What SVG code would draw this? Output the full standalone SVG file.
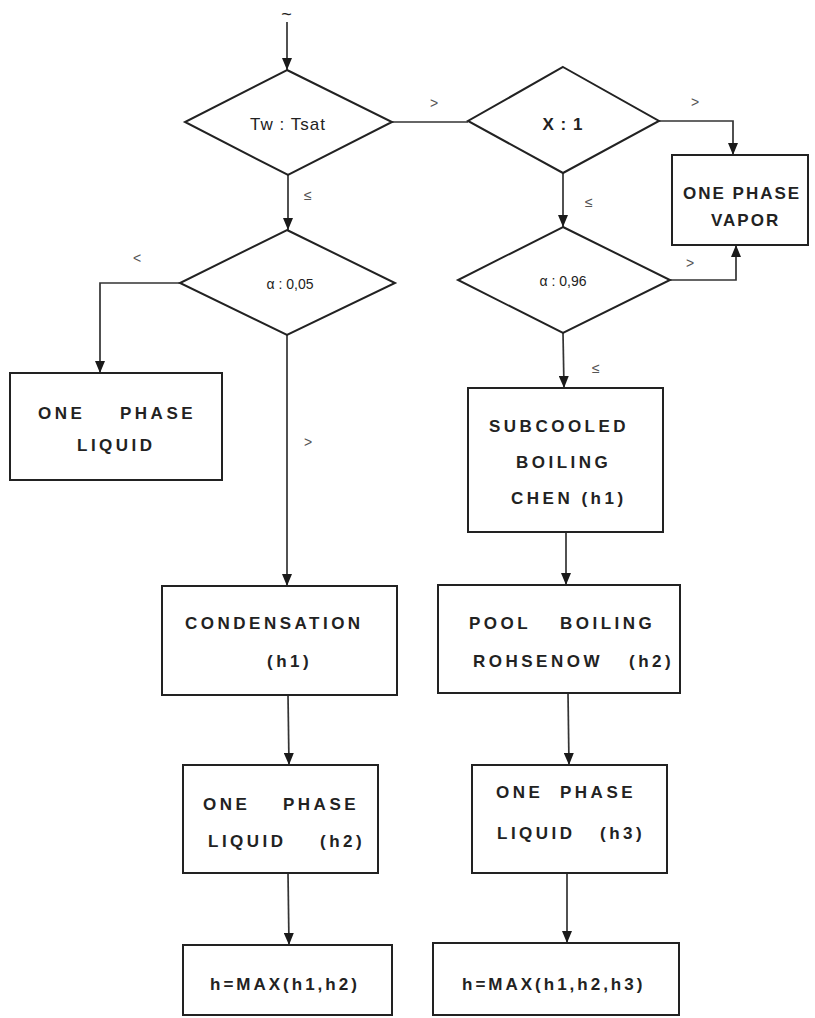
<svg xmlns="http://www.w3.org/2000/svg" width="815" height="1018" viewBox="0 0 815 1018">
<defs>
<marker id="ah" viewBox="0 0 12 10" refX="12" refY="5" markerWidth="12" markerHeight="10" markerUnits="userSpaceOnUse" orient="auto">
<path d="M0,0 L12,5 L0,10 Z" fill="#1a1a1a"/>
</marker>
<style>
.shape{fill:#fff;stroke:#222;stroke-width:2}
.conn{fill:none;stroke:#333;stroke-width:1.7}
.t{font-family:"Liberation Sans",Arial,sans-serif;font-weight:bold;font-size:17px;fill:#222;letter-spacing:3.5px}
.f{letter-spacing:3px}
.d{font-family:"Liberation Sans",Arial,sans-serif;font-size:17px;fill:#222;text-anchor:middle;letter-spacing:1px}
.ds{font-family:"Liberation Sans",Arial,sans-serif;font-size:14px;fill:#222;text-anchor:middle}
.lbl{font-family:"Liberation Sans",Arial,sans-serif;font-size:14px;fill:#555}
</style>
</defs>
<rect width="815" height="1018" fill="#fff"/>
<g id="connectors">
<text x="287" y="20" class="d" style="font-size:18px">~</text>
<line class="conn" x1="287" y1="22" x2="287" y2="70" marker-end="url(#ah)"/>
<line class="conn" x1="392" y1="122" x2="468" y2="122"/>
<text x="430" y="108" class="lbl">&gt;</text>
<line class="conn" x1="288" y1="175" x2="288" y2="230" marker-end="url(#ah)"/>
<text x="304" y="200" class="lbl">≤</text>
<polyline class="conn" points="659,121 733,121 733,155" marker-end="url(#ah)"/>
<text x="691" y="107" class="lbl">&gt;</text>
<line class="conn" x1="563" y1="173" x2="563" y2="227" marker-end="url(#ah)"/>
<text x="585" y="207" class="lbl">≤</text>
<polyline class="conn" points="670,280 736,280 736,245" marker-end="url(#ah)"/>
<text x="686" y="268" class="lbl">&gt;</text>
<polyline class="conn" points="180,283 100,283 100,373" marker-end="url(#ah)"/>
<text x="133" y="263" class="lbl">&lt;</text>
<line class="conn" x1="287" y1="335" x2="287" y2="586" marker-end="url(#ah)"/>
<text x="304" y="447" class="lbl">&gt;</text>
<line class="conn" x1="563" y1="333" x2="564" y2="388" marker-end="url(#ah)"/>
<text x="592" y="373" class="lbl">≤</text>
<line class="conn" x1="566" y1="532" x2="566" y2="585" marker-end="url(#ah)"/>
<line class="conn" x1="288" y1="695" x2="289" y2="765" marker-end="url(#ah)"/>
<line class="conn" x1="568" y1="693" x2="569" y2="765" marker-end="url(#ah)"/>
<line class="conn" x1="288" y1="873" x2="289" y2="945" marker-end="url(#ah)"/>
<line class="conn" x1="567" y1="873" x2="567" y2="943" marker-end="url(#ah)"/>
</g>
<g id="tw_tsat">
<polygon class="shape" points="287,70 392,122 288,175 185,122"/>
<text x="288" y="130" class="d">Tw : Tsat</text>
</g>
<g id="x_1">
<polygon class="shape" points="563,67 659,121 563,173 468,121"/>
<text x="563" y="130" class="d" style="font-weight:bold">X : 1</text>
</g>
<g id="one_phase_vapor">
<rect class="shape" x="672" y="155" width="136" height="90"/>
<text class="t" style="letter-spacing:2px"><tspan x="683" y="199">ONE PHASE</tspan><tspan x="711" y="226">VAPOR</tspan></text>
</g>
<g id="alpha_096">
<polygon class="shape" points="563,227 670,280 563,333 458,280"/>
<text x="563" y="286" class="ds">α : 0,96</text>
</g>
<g id="alpha_005">
<polygon class="shape" points="287,230 395,283 287,335 180,283"/>
<text x="290" y="289" class="ds">α : 0,05</text>
</g>
<g id="one_phase_liquid">
<rect class="shape" x="10" y="373" width="212" height="107"/>
<text class="t"><tspan x="38" y="419">ONE</tspan><tspan x="120" y="419">PHASE</tspan><tspan x="77" y="451">LIQUID</tspan></text>
</g>
<g id="subcooled_boiling">
<rect class="shape" x="468" y="388" width="195" height="144"/>
<text class="t"><tspan x="489" y="432">SUBCOOLED</tspan><tspan x="516" y="468">BOILING</tspan><tspan x="511" y="504">CHEN (h1)</tspan></text>
</g>
<g id="condensation">
<rect class="shape" x="162" y="586" width="235" height="109"/>
<text class="t"><tspan x="185" y="629">CONDENSATION</tspan><tspan x="267" y="667">(h1)</tspan></text>
</g>
<g id="pool_boiling">
<rect class="shape" x="438" y="585" width="242" height="108"/>
<text class="t"><tspan x="469" y="629">POOL</tspan><tspan x="560" y="629">BOILING</tspan><tspan x="473" y="667">ROHSENOW</tspan><tspan x="629" y="667">(h2)</tspan></text>
</g>
<g id="one_phase_liquid_h2">
<rect class="shape" x="183" y="765" width="195" height="108"/>
<text class="t"><tspan x="203" y="810">ONE</tspan><tspan x="283" y="810">PHASE</tspan><tspan x="208" y="847">LIQUID</tspan><tspan x="320" y="847">(h2)</tspan></text>
</g>
<g id="one_phase_liquid_h3">
<rect class="shape" x="472" y="765" width="195" height="108"/>
<text class="t"><tspan x="496" y="798">ONE</tspan><tspan x="560" y="798">PHASE</tspan><tspan x="497" y="839">LIQUID</tspan><tspan x="600" y="839">(h3)</tspan></text>
</g>
<g id="max_h1_h2">
<rect class="shape" x="183" y="945" width="209" height="70"/>
<text x="210" y="990" class="t f">h=MAX(h1,h2)</text>
</g>
<g id="max_h1_h2_h3">
<rect class="shape" x="433" y="943" width="246" height="72"/>
<text x="462" y="990" class="t f">h=MAX(h1,h2,h3)</text>
</g>
</svg>
